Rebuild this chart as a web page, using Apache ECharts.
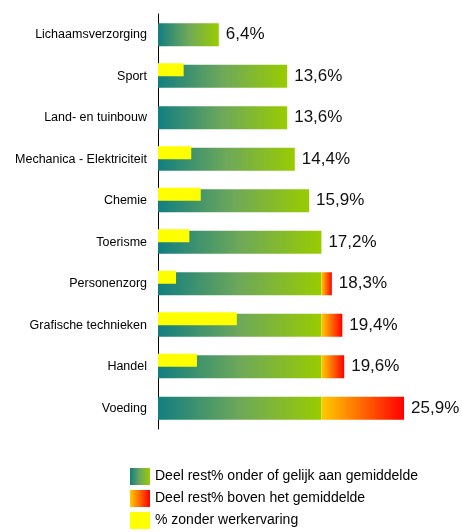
<!DOCTYPE html>
<html>
<head>
<meta charset="utf-8">
<script src="https://cdn.jsdelivr.net/npm/echarts@6/dist/echarts.min.js"></script>
<style>
  html, body { margin: 0; padding: 0; background: #fff; }
  #bar-box { width: 462px; height: 532px; }
</style>
</head>
<body>
<div id="bar-box"></div>
<script>
var categories = ['Lichaamsverzorging', 'Sport', 'Land- en tuinbouw', 'Mechanica - Elektriciteit', 'Chemie',
    'Toerisme', 'Personenzorg', 'Grafische technieken', 'Handel', 'Voeding'];
// deel tot en met het gemiddelde (17,2%)
var onderGemiddelde = [6.4, 13.6, 13.6, 14.4, 15.9, 17.2, 17.2, 17.2, 17.2, 17.2];
// deel boven het gemiddelde
var bovenGemiddelde = [0, 0, 0, 0, 0, 0, 1.1, 2.2, 2.4, 8.7];
// % zonder werkervaring
var zonderWerk = [0, 2.7, 0, 3.5, 4.5, 3.3, 1.9, 8.3, 4.1, 0];
var totaalLabels = ['6,4%', '13,6%', '13,6%', '14,4%', '15,9%', '17,2%', '18,3%', '19,4%', '19,6%', '25,9%'];

var font = 'Arial, "Liberation Sans", sans-serif';
var myChart = echarts.init(document.getElementById('bar-box'));

var option = {
    animation: false,
    textStyle: { fontFamily: font },
    grid: [
        { left: 158, right: 19, top: 14, height: 415 },
        { left: 158, right: 19, top: 7.5, height: 415 }
    ],
    xAxis: [
        { gridIndex: 0, type: 'value', min: 0, max: 30, show: false },
        { gridIndex: 1, type: 'value', min: 0, max: 30, show: false }
    ],
    yAxis: [
        {
            gridIndex: 0,
            type: 'category',
            inverse: true,
            data: categories,
            axisLine: { lineStyle: { color: '#000', width: 1 } },
            axisTick: { length: 4, lineStyle: { color: '#000' } },
            axisLabel: { color: '#000', fontSize: 12.5, margin: 11, fontFamily: font }
        },
        {
            gridIndex: 1,
            type: 'category',
            inverse: true,
            data: categories,
            show: false
        }
    ],
    legend: {
        orient: 'vertical',
        left: 130,
        top: 468,
        padding: 0,
        itemWidth: 20,
        itemHeight: 17,
        itemGap: 5,
        icon: 'rect',
        textStyle: { color: '#000', fontSize: 14, fontFamily: font },
        data: ['Deel rest% onder of gelijk aan gemiddelde', 'Deel rest% boven het gemiddelde', '% zonder werkervaring']
    },
    series: [
        {
            name: 'Deel rest% onder of gelijk aan gemiddelde',
            type: 'bar',
            stack: 'rest',
            xAxisIndex: 0,
            yAxisIndex: 0,
            barWidth: 23,
            itemStyle: {
                color: new echarts.graphic.LinearGradient(0, 0, 1, 0, [
                    { offset: 0, color: '#127e80' },
                    { offset: 0.5, color: '#6ea85a' },
                    { offset: 1, color: '#99cc00' }
                ])
            },
            data: onderGemiddelde
        },
        {
            name: 'Deel rest% boven het gemiddelde',
            type: 'bar',
            stack: 'rest',
            xAxisIndex: 0,
            yAxisIndex: 0,
            barWidth: 23,
            itemStyle: {
                color: new echarts.graphic.LinearGradient(0, 0, 1, 0, [
                    { offset: 0, color: '#ffcc00' },
                    { offset: 1, color: '#ff0000' }
                ])
            },
            label: {
                show: true,
                position: 'right',
                distance: 7,
                color: '#111',
                fontSize: 17,
                fontFamily: font,
                formatter: function (p) { return totaalLabels[p.dataIndex]; }
            },
            data: bovenGemiddelde
        },
        {
            name: '% zonder werkervaring',
            type: 'bar',
            xAxisIndex: 1,
            yAxisIndex: 1,
            barWidth: 13,
            z: 5,
            itemStyle: { color: '#ffff00' },
            data: zonderWerk
        }
    ]
};
myChart.setOption(option);
</script>
</body>
</html>
